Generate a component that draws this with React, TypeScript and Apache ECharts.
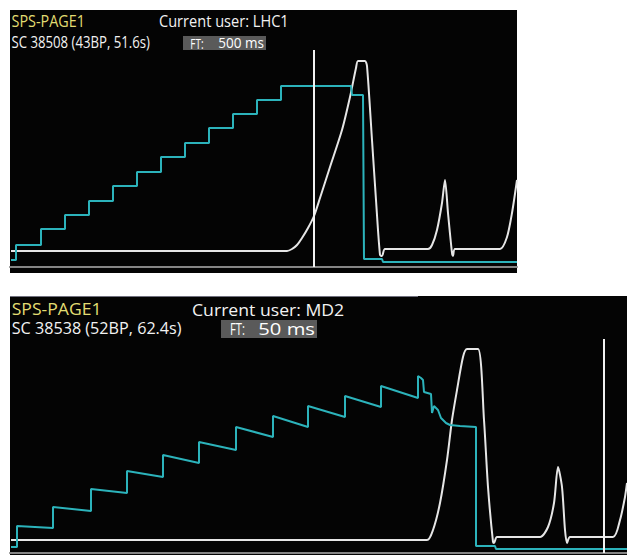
import React, { useEffect, useRef } from "react";
import * as echarts from "echarts";

const FONT = '"Open Sans", "Noto Sans", sans-serif';

// ---------- Top panel (SPS-PAGE1, user LHC1) ----------
const topTitle = "SPS-PAGE1";
const topUser = "Current user: LHC1";
const topCycle = "SC 38508 (43BP, 51.6s)";
const topFtLabel = "FT:";
const topFtValue = "500 ms";
// x: sample index, y: signal (arbitrary units)
const topIntensity: [number, number][] = [
  [1, 7], [6, 7], [6, 22], [31, 22], [31, 38], [55, 38], [55, 52], [79, 52], [79, 66],
  [103, 66], [103, 81], [127, 81], [127, 95], [151, 95], [151, 110], [175, 110], [175, 124],
  [199, 124], [199, 139], [223, 139], [223, 153], [247, 153], [247, 167], [271, 167],
  [271, 181], [341, 181], [342, 172], [353, 172], [354, 8], [372, 8], [373, 5], [507, 5],
];
const topMomentum: [number, number][] = [
  [1, 16], [277, 16], [282, 18], [287, 22], [292, 29], [298, 39], [304, 51], [310, 69],
  [320, 100], [332, 137], [340, 170], [346, 199], [348, 206], [355, 206], [357, 201],
  [362, 127], [366, 67], [370, 12], [372, 11], [375, 18], [418, 18], [422, 22], [427, 37],
  [432, 64], [435, 87], [438, 54], [442, 14], [443, 11], [445, 18], [490, 18], [497, 30],
  [502, 54], [507, 87],
];
const topCursor: [number, number][] = [[304, 0], [304, 217]];

// ---------- Bottom panel (SPS-PAGE1, user MD2) ----------
const botTitle = "SPS-PAGE1";
const botUser = "Current user: MD2";
const botCycle = "SC 38538 (52BP, 62.4s)";
const botFtLabel = "FT:";
const botFtValue = "50 ms";
const botIntensity: [number, number][] = [
  [1, 6], [7, 6], [7, 27], [43, 25], [43, 46], [81, 42], [81, 64], [117, 60], [117, 82],
  [153, 76], [153, 98], [189, 90], [189, 111], [226, 103], [226, 126], [263, 116],
  [263, 137], [298, 126], [298, 147], [335, 136], [335, 157], [371, 146], [371, 167],
  [408, 155], [408, 177], [411, 175], [413, 173], [414, 161], [421, 159], [422, 140],
  [424, 147], [428, 143], [431, 135], [436, 130], [440, 128], [450, 127], [466, 126],
  [466, 7], [485, 7], [486, 4], [617, 4],
];
const botMomentum: [number, number][] = [
  [1, 13], [417, 13], [423, 23], [430, 50], [437, 93], [442, 133], [447, 163], [453, 196],
  [457, 204], [468, 204], [474, 133], [478, 66], [483, 11], [484, 10], [487, 16], [530, 16],
  [538, 26], [544, 50], [548, 86], [552, 66], [555, 23], [557, 10], [560, 16], [603, 16],
  [610, 33], [615, 56], [617, 70],
];
const botCursor: [number, number][] = [[594, 0], [594, 214]];

const CYAN = "#2cb3bb";
const WHITE = "#e6e6e6";
const YELLOW = "#e2dd72";

function measure(text: string, size: number): number {
  const c = document.createElement("canvas");
  const ctx = c.getContext("2d");
  if (!ctx) return text.length * size * 0.55;
  ctx.font = `${size}px ${FONT}`;
  return ctx.measureText(text).width || text.length * size * 0.55;
}

function label(text: string, left: number, right: number, cy: number, size: number, color: string) {
  const w = measure(text, size);
  return {
    type: "text",
    x: left,
    y: cy,
    scaleX: (right - left) / w,
    z: 100,
    style: {
      text,
      x: 0,
      y: 0,
      fill: color,
      fontSize: size,
      fontFamily: FONT,
      textAlign: "left",
      textVerticalAlign: "middle",
      align: "left",
      verticalAlign: "middle",
    },
  };
}

function lineSeries(data: [number, number][], idx: number, color: string, width: number, smooth: number | boolean) {
  return {
    type: "line",
    xAxisIndex: idx,
    yAxisIndex: idx,
    data,
    showSymbol: false,
    symbol: "none",
    smooth,
    lineStyle: { color, width },
    z: 3,
    silent: true,
  };
}

export default function App() {
  const ref = useRef<HTMLDivElement>(null);
  useEffect(() => {
    if (!ref.current) return;
    const chart = echarts.init(ref.current, undefined, { renderer: "svg" });
    const axisX = (idx: number, max: number) => ({
      gridIndex: idx,
      type: "value",
      min: 0,
      max,
      axisLine: { show: true, onZero: false, lineStyle: { color: "#858585", width: 2 } },
      axisTick: { show: false },
      axisLabel: { show: false },
      splitLine: { show: false },
    });
    const axisY = (idx: number) => ({
      gridIndex: idx,
      type: "value",
      min: 0,
      max: 257,
      show: false,
      splitLine: { show: false },
    });
    chart.setOption({
      animation: false,
      backgroundColor: "#ffffff",
      grid: [
        { left: 10, top: 10, width: 507, height: 257 },
        { left: 10, top: 296, width: 617, height: 257 },
      ],
      xAxis: [axisX(0, 507), axisX(1, 617)],
      yAxis: [axisY(0), axisY(1)],
      series: [
        lineSeries(topMomentum, 0, WHITE, 2, 0.25),
        lineSeries(topIntensity, 0, CYAN, 2, false),
        lineSeries(topCursor, 0, "#f2f2f2", 2, false),
        lineSeries(botMomentum, 1, WHITE, 2, 0.25),
        lineSeries(botIntensity, 1, CYAN, 2, false),
        lineSeries(botCursor, 1, "#f2f2f2", 2, false),
      ],
      graphic: [
        { type: "rect", z: -10, shape: { x: 10, y: 10, width: 507, height: 263 }, style: { fill: "#040404" }, silent: true },
        { type: "rect", z: -10, shape: { x: 10, y: 296, width: 617, height: 259 }, style: { fill: "#040404" }, silent: true },
        { type: "line", z: 5, shape: { x1: 10, y1: 296.5, x2: 418, y2: 296.5 }, style: { stroke: "#70707e", lineWidth: 1 }, silent: true },
        // FT boxes
        { type: "rect", z: 50, shape: { x: 183, y: 36, width: 83, height: 14 }, style: { fill: "#5a5a5a" }, silent: true },
        { type: "rect", z: 50, shape: { x: 221, y: 320, width: 96, height: 18 }, style: { fill: "#5a5a5a" }, silent: true },
        // top texts
        label(topTitle, 11.5, 85, 20.3, 17, YELLOW),
        label(topUser, 159, 288.7, 20.3, 17, "#f2f2f2"),
        label(topCycle, 11.5, 150, 41, 16.5, "#f2f2f2"),
        label(topFtLabel, 190.3, 203.5, 42.7, 15, "#ffffff"),
        label(topFtValue, 218.3, 264, 42.7, 15, "#ffffff"),
        // bottom texts
        label(botTitle, 11.7, 101.7, 308.8, 17, YELLOW),
        label(botUser, 192, 344.3, 308.8, 17, "#f2f2f2"),
        label(botCycle, 11.7, 181.7, 328.3, 16.5, "#f2f2f2"),
        label(botFtLabel, 230, 245, 328.8, 16, "#ffffff"),
        label(botFtValue, 258.3, 315, 328.8, 16, "#ffffff"),
      ],
    });
    return () => chart.dispose();
  }, []);
  return (
    <div
      ref={ref}
      style={{ position: "fixed", left: 0, top: 0, width: 627, height: 555, background: "#ffffff" }}
    />
  );
}
